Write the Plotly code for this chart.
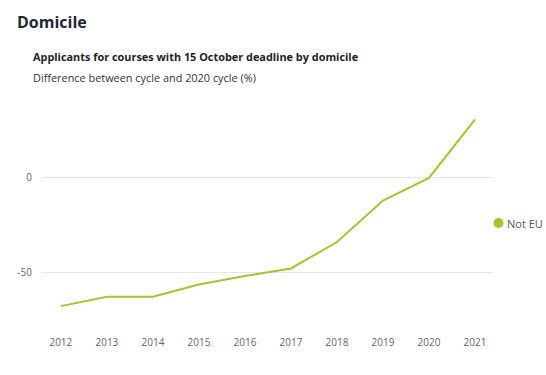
import plotly.graph_objects as go

years = ["2012", "2013", "2014", "2015", "2016", "2017", "2018", "2019", "2020", "2021"]
not_eu = [-68, -63, -63, -56.5, -52, -48, -34, -12, 0, 31]
series_name = "Not EU"
title = "Domicile"
subtitle = "Applicants for courses with 15 October deadline by domicile"
y_title = "Difference between cycle and 2020 cycle (%)"
y_ticks = [0, -50]

color = "#a8c42c"
font = "Open Sans"

W, H = 546, 375
ml, mr, mt, mb = 42, 53, 100, 50
pw, ph = W - ml - mr, H - mt - mb


def px_x(px):
    return (px - ml) / pw


def px_y(py):
    return 1 - (py - mt) / ph


fig = go.Figure()
fig.add_trace(go.Scatter(
    x=list(range(len(years))), y=not_eu, mode="lines", name=series_name,
    line=dict(color=color, width=2), showlegend=False, hoverinfo="x+y",
))

fig.update_layout(
    width=W, height=H,
    margin=dict(l=ml, r=mr, t=mt, b=mb, autoexpand=False),
    paper_bgcolor="white", plot_bgcolor="white",
    font=dict(family=font, color="#666666", size=10),
    showlegend=False,
    xaxis=dict(
        tickmode="array", tickvals=list(range(len(years))), ticktext=years,
        range=[-0.41, 9.39], showgrid=False, zeroline=False, showline=False,
        ticks="", tickfont=dict(size=10, color="#666666"), automargin=False,
        ticklabelstandoff=10,
    ),
    yaxis=dict(
        tickmode="array", tickvals=y_ticks, ticktext=[str(v) for v in y_ticks],
        range=[-78, 41.3], showgrid=True, gridcolor="#e6e6e6", gridwidth=1,
        zeroline=False, showline=False, ticks="", ticklabelstandoff=9,
        tickfont=dict(size=10, color="#666666"), automargin=False,
    ),
    annotations=[
        dict(text="<b>" + title + "</b>", x=px_x(15), y=px_y(22), xref="paper", yref="paper",
             showarrow=False, xanchor="left", yanchor="middle",
             font=dict(size=16, color="#1d2733", family=font)),
        dict(text="<b>" + subtitle + "</b>", x=px_x(31), y=px_y(57), xref="paper", yref="paper",
             showarrow=False, xanchor="left", yanchor="middle",
             font=dict(size=10.9, color="#222222", family=font)),
        dict(text=y_title, x=px_x(31), y=px_y(77), xref="paper", yref="paper",
             showarrow=False, xanchor="left", yanchor="middle",
             font=dict(size=10.9, color="#333333", family=font)),
        dict(text=series_name, x=px_x(505), y=px_y(223), xref="paper", yref="paper",
             showarrow=False, xanchor="left", yanchor="middle",
             font=dict(size=11, color="#555555", family=font)),
    ],
)

cx, cy, r = 498.5, 223, 5
fig.add_shape(type="circle", xref="paper", yref="paper",
              x0=px_x(cx - r), x1=px_x(cx + r),
              y0=px_y(cy + r), y1=px_y(cy - r),
              fillcolor=color, line=dict(width=0))

fig.write_html("out.html", config={"displayModeBar": False},
               post_script="document.body.style.margin='0';")
